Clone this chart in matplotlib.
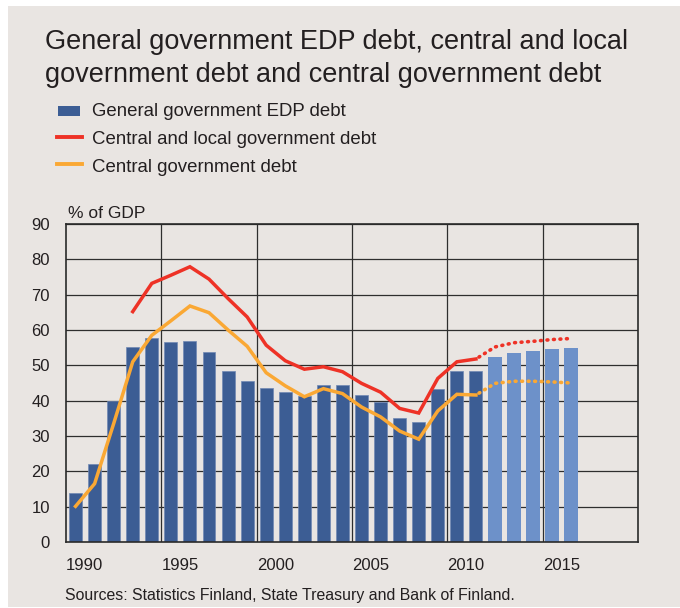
import matplotlib
matplotlib.use("Agg")
import matplotlib.pyplot as plt
from matplotlib.patches import Rectangle
from matplotlib.lines import Line2D

plt.rcParams['font.family'] = ['Liberation Sans', 'DejaVu Sans']

# ---- data ----
years = [1990, 1991, 1992, 1993, 1994, 1995, 1996, 1997, 1998, 1999,
         2000, 2001, 2002, 2003, 2004, 2005, 2006, 2007, 2008, 2009,
         2010, 2011, 2012, 2013, 2014, 2015, 2016]
edp_debt = [13.9, 22.2, 40.0, 55.2, 57.6, 56.5, 56.8, 53.8, 48.3, 45.6,
            43.7, 42.4, 41.3, 44.4, 44.3, 41.6, 39.6, 35.1, 33.9, 43.3,
            48.3, 48.5, 52.4, 53.5, 54.1, 54.7, 55.0]
first_forecast_year = 2012

cl_years = [1993, 1994, 1995, 1996, 1997, 1998, 1999, 2000, 2001, 2002,
            2003, 2004, 2005, 2006, 2007, 2008, 2009, 2010, 2011]
cl_debt = [65.2, 73.2, 75.5, 77.9, 74.4, 68.9, 63.7, 55.7, 51.3, 48.9,
           49.6, 48.2, 44.9, 42.4, 37.8, 36.5, 46.3, 51.0, 51.8]
cl_fc_years = [2011, 2012, 2013, 2014, 2015, 2016]
cl_fc_debt = [51.8, 55.2, 56.4, 56.8, 57.3, 57.6]

cg_years = [1990, 1991, 1992, 1993, 1994, 1995, 1996, 1997, 1998, 1999,
            2000, 2001, 2002, 2003, 2004, 2005, 2006, 2007, 2008, 2009,
            2010, 2011]
cg_debt = [10.1, 16.5, 33.5, 51.0, 58.5, 62.6, 66.8, 64.9, 60.0, 55.4,
           47.9, 44.2, 41.1, 43.4, 42.0, 38.2, 35.4, 31.4, 29.1, 37.1,
           41.8, 41.6]
cg_fc_years = [2011, 2012, 2013, 2014, 2015, 2016]
cg_fc_debt = [41.6, 44.9, 45.5, 45.5, 45.3, 45.0]

x_tick_labels = ['1990', '1995', '2000', '2005', '2010', '2015']
y_ticks = [0, 10, 20, 30, 40, 50, 60, 70, 80, 90]

title_lines = ['General government EDP debt, central and local',
               'government debt and central government debt']
legend_labels = ['General government EDP debt',
                 'Central and local government debt',
                 'Central government debt']
unit_label = '% of GDP'
source_text = 'Sources: Statistics Finland, State Treasury and Bank of Finland.'

# ---- style ----
BG = '#E9E5E2'
DARK = '#3C5D94'
LIGHT = '#6D91C9'
RED = '#EE3226'
ORANGE = '#FAA834'
GRID = '#2E2E2E'
TXT = '#231F20'

W, H = 680, 608
fig = plt.figure(figsize=(W / 100, H / 100), dpi=100, facecolor='white')
fig.add_artist(Rectangle((8 / W, 1 / H), (W - 8) / W, (607 - 6) / H,
                         transform=fig.transFigure, facecolor=BG,
                         edgecolor='none', zorder=-10))

ax = fig.add_axes([66 / W, 1 - 542 / H, (638 - 66) / W, (542 - 224) / H])
ax.set_facecolor(BG)
ax.set_xlim(1989.5, 2019.5)
ax.set_ylim(0, 90)

# gridlines
for yv in y_ticks[1:]:
    ax.axhline(yv, color=GRID, lw=0.9, zorder=1)
for lab in x_tick_labels[1:]:
    ax.axvline(int(lab) - 0.5, color=GRID, lw=0.9, zorder=1)

# bars
hist_x = [y for y in years if y < first_forecast_year]
hist_v = [v for y, v in zip(years, edp_debt) if y < first_forecast_year]
fc_x = [y for y in years if y >= first_forecast_year]
fc_v = [v for y, v in zip(years, edp_debt) if y >= first_forecast_year]
ax.bar(hist_x, hist_v, width=0.68, color=DARK, edgecolor='#7088B3',
       linewidth=0.5, zorder=2)
ax.bar(fc_x, fc_v, width=0.72, color=LIGHT, edgecolor='none', zorder=2)

# lines
ax.plot(cl_years, cl_debt, color=RED, lw=2.5, zorder=4,
        solid_joinstyle='miter')
ax.plot(cg_years, cg_debt, color=ORANGE, lw=2.5, zorder=3,
        solid_joinstyle='miter')
ax.plot(cl_fc_years, cl_fc_debt, color=RED, lw=2.6, zorder=4,
        linestyle=(0.8, (0.25, 1.55)), dash_capstyle='round')
ax.plot(cg_fc_years, cg_fc_debt, color=ORANGE, lw=2.6, zorder=3,
        linestyle=(0.8, (0.25, 1.55)), dash_capstyle='round')

# ticks
ax.set_yticks(y_ticks)
ax.set_yticklabels([str(v) for v in y_ticks], fontsize=12, color=TXT)
ax.set_xticks([int(l) - 0.5 for l in x_tick_labels])
ax.set_xticklabels(x_tick_labels, fontsize=12, color=TXT, ha='left')
ax.tick_params(axis='both', length=0)
ax.tick_params(axis='y', pad=11.5)
ax.tick_params(axis='x', pad=11.5)
for s in ax.spines.values():
    s.set_color('#2A2A2A')
    s.set_linewidth(1.2)
    s.set_zorder(5)

# texts
fig.text(45 / W, 1 - 49 / H, title_lines[0], fontsize=19.5, color=TXT,
         va='baseline', ha='left')
fig.text(45 / W, 1 - 82 / H, title_lines[1], fontsize=19.5, color=TXT,
         va='baseline', ha='left')

leg_base = [115.5, 143.5, 172]
fig.add_artist(Rectangle((58 / W, 1 - 116 / H), 22 / W, 10 / H,
                         transform=fig.transFigure, facecolor=DARK,
                         edgecolor='none'))
fig.add_artist(Line2D([57 / W, 82 / W], [1 - 137 / H, 1 - 137 / H],
                      transform=fig.transFigure, color=RED, lw=2.8))
fig.add_artist(Line2D([57 / W, 82 / W], [1 - 164.5 / H, 1 - 164.5 / H],
                      transform=fig.transFigure, color=ORANGE, lw=2.8))
for lab, b in zip(legend_labels, leg_base):
    fig.text(92 / W, 1 - b / H, lab, fontsize=13.4, color=TXT,
             va='baseline', ha='left')

fig.text(68 / W, 1 - 218 / H, unit_label, fontsize=12.5, color=TXT,
         va='baseline', ha='left')
fig.text(65 / W, 1 - 600 / H, source_text, fontsize=11.4, color=TXT,
         va='baseline', ha='left')

fig.savefig('out.png', dpi=100, facecolor='white')
